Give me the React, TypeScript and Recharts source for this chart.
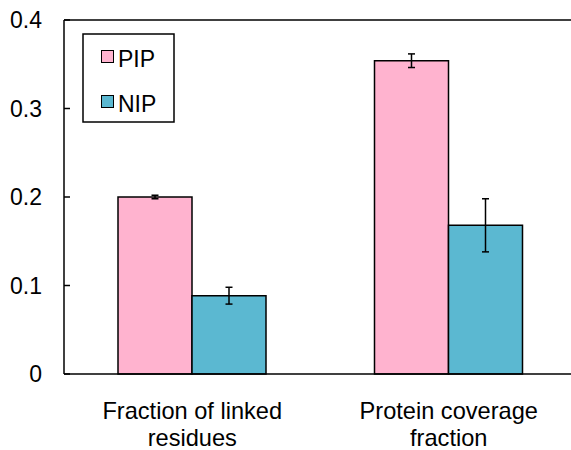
import { BarChart, Bar, XAxis, YAxis, ErrorBar, ReferenceLine } from 'recharts';

const categories = ['Fraction of linked residues', 'Protein coverage fraction'];
const categoryLines = [['Fraction of linked', 'residues'], ['Protein coverage', 'fraction']];
const seriesNames = ['PIP', 'NIP'];
const pipValues = [0.2, 0.354];
const pipErrors = [0.002, 0.0077];
const nipValues = [0.0885, 0.168];
const nipErrors = [0.0095, 0.03];
const yTicks = [0, 0.1, 0.2, 0.3, 0.4];

const PIP_COLOR = '#FFB3CF';
const NIP_COLOR = '#5BB8D1';
const FONT = '"Liberation Sans", Arial, sans-serif';

const data = categories.map((name, i) => ({
  name,
  idx: i + 0.5,
  PIP: pipValues[i],
  pipErr: pipErrors[i],
  NIP: nipValues[i],
  nipErr: nipErrors[i],
}));

function CategoryTick({ x, y, payload }: any) {
  const lines = categoryLines[categories.indexOf(payload.value)] || [payload.value];
  return (
    <text x={x} y={y} textAnchor="middle" fontSize={23.6} fontFamily={FONT} fill="#000">
      {lines.map((l, i) => (
        <tspan key={i} x={x} dy={i === 0 ? 37 : 27}>{l}</tspan>
      ))}
    </text>
  );
}

// legend box drawn on top of the chart, inside the plot area
function LegendBox() {
  const colors = [PIP_COLOR, NIP_COLOR];
  return (
    <svg width={571} height={450} style={{ position: 'absolute', left: 0, top: 0, pointerEvents: 'none' }}>
      <rect x={83} y={34} width={91} height={88} fill="#fff" stroke="#000" strokeWidth={1.5} />
      {seriesNames.map((s, i) => (
        <g key={s}>
          <rect x={101.5} y={50.5 + i * 45} width={12} height={12} fill={colors[i]} stroke="#000" strokeWidth={1} />
          <text x={118} y={67 + i * 45} fontSize={23} fontFamily={FONT} fill="#000">{s}</text>
        </g>
      ))}
    </svg>
  );
}

export default function App() {
  return (
    <div style={{ position: 'absolute', left: 0, top: 0, width: 571, height: 450, background: '#fff' }}>
      <BarChart
        width={571}
        height={450}
        data={data}
        margin={{ top: 20, right: -6, bottom: 0, left: 0 }}
        barCategoryGap={54}
        barGap={0}
      >
        <XAxis
          xAxisId="bounds"
          type="number"
          dataKey="idx"
          domain={[0, 2]}
          ticks={[0, 1, 2]}
          height={1}
          tick={false}
          tickSize={6}
          axisLine={false}
          tickLine={{ stroke: '#000', strokeWidth: 1.5 }}
        />
        <XAxis
          dataKey="name"
          height={75}
          tickLine={false}
          axisLine={{ stroke: '#000', strokeWidth: 1.5 }}
          tick={<CategoryTick />}
          interval={0}
        />
        <YAxis
          width={64}
          domain={[0, 0.4]}
          ticks={yTicks}
          tickFormatter={(v: number) => (v === 0 ? '0' : v.toFixed(1))}
          tickSize={-6}
          tickMargin={28}
          tick={{ fontSize: 23, fontFamily: FONT, fill: '#000' }}
          axisLine={{ stroke: '#000', strokeWidth: 1.5 }}
          tickLine={{ stroke: '#000', strokeWidth: 1.5 }}
        />
        <ReferenceLine y={0.4} stroke="#000" strokeWidth={1.5} />
        <Bar dataKey="PIP" fill={PIP_COLOR} stroke="#000" strokeWidth={1.5} isAnimationActive={false}>
          <ErrorBar dataKey="pipErr" width={3.5} stroke="#000" strokeWidth={1.5} />
        </Bar>
        <Bar dataKey="NIP" fill={NIP_COLOR} stroke="#000" strokeWidth={1.5} isAnimationActive={false}>
          <ErrorBar dataKey="nipErr" width={3.5} stroke="#000" strokeWidth={1.5} />
        </Bar>
      </BarChart>
      <LegendBox />
    </div>
  );
}
